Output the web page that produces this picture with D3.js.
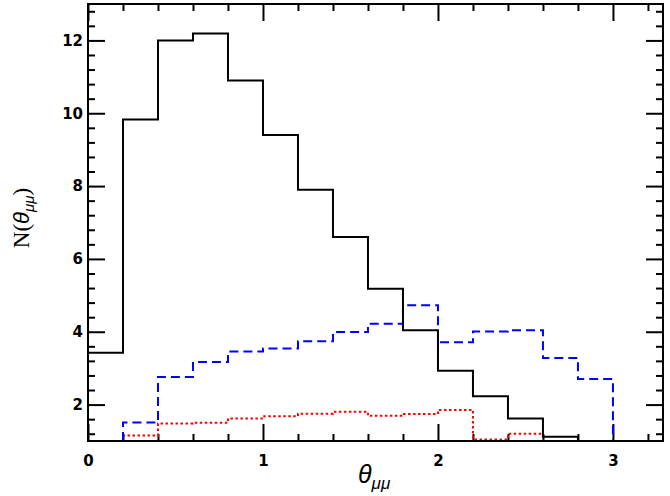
<!DOCTYPE html>
<html><head><meta charset="utf-8">
<script src="https://cdn.jsdelivr.net/npm/d3@7"></script>
<style>body{margin:0;background:#fff}svg{display:block}</style>
</head><body>
<svg id="chart" width="670" height="496"></svg>
<script>
// data
const binWidth = 0.2;
const blackStart = 0.0;
const blackValues = [3.42, 9.83, 12.0, 12.19, 10.9, 9.40, 7.90, 6.6, 5.18, 4.04, 2.93, 2.23, 1.62, 1.12];
const blueStart = 0.2;
const blueValues = [1.51, 2.76, 3.17, 3.46, 3.54, 3.74, 3.99, 4.22, 4.73, 3.71, 4.01, 4.04, 3.28, 2.70];
const redStart = 0.2;
const redValues = [1.15, 1.48, 1.50, 1.62, 1.68, 1.75, 1.80, 1.69, 1.74, 1.85, 1.04, 1.20];
const xMajorTicks = [0, 1, 2, 3];
const yMajorTicks = [2, 4, 6, 8, 10, 12];

const svg = d3.select("#chart");
const L = 88, R = 663, T = 4, B = 441;
const x = d3.scaleLinear().domain([0, 3.286]).range([L, R]);
const y = d3.scaleLinear().domain([1, 13]).range([B, T]);

const xMinor = d3.range(0, 3.29, 0.2).filter(v => Math.abs(v - Math.round(v)) > 1e-6);
const yMinor = d3.range(1.2, 13.0, 0.4).filter(v => Math.abs(v/2 - Math.round(v/2)) > 1e-6);

const tickFont = "bold 15px 'DejaVu Sans', Verdana, sans-serif";
function styleAxis(g){
  g.select(".domain").remove();
  g.selectAll(".tick line").attr("stroke","#000").attr("stroke-width",2);
  g.selectAll("text").style("font", tickFont).attr("fill","#000");
}
// bottom
svg.append("g").attr("transform",`translate(0,${B})`)
  .call(d3.axisBottom(x).tickValues(xMajorTicks).tickSize(-17).tickPadding(14).tickFormat(d3.format("d"))).call(styleAxis);
svg.append("g").attr("transform",`translate(0,${B})`)
  .call(d3.axisBottom(x).tickValues(xMinor).tickSize(-7).tickFormat("")).call(styleAxis);
// top
svg.append("g").attr("transform",`translate(0,${T})`)
  .call(d3.axisTop(x).tickValues(xMajorTicks).tickSize(-17).tickFormat("")).call(styleAxis);
svg.append("g").attr("transform",`translate(0,${T})`)
  .call(d3.axisTop(x).tickValues(xMinor).tickSize(-7).tickFormat("")).call(styleAxis);
// left
svg.append("g").attr("transform",`translate(${L},0)`)
  .call(d3.axisLeft(y).tickValues(yMajorTicks).tickSize(-17).tickPadding(5).tickFormat(d3.format("d"))).call(styleAxis);
svg.append("g").attr("transform",`translate(${L},0)`)
  .call(d3.axisLeft(y).tickValues(yMinor).tickSize(-7).tickFormat("")).call(styleAxis);
// right
svg.append("g").attr("transform",`translate(${R},0)`)
  .call(d3.axisRight(y).tickValues(yMajorTicks).tickSize(-17).tickFormat("")).call(styleAxis);
svg.append("g").attr("transform",`translate(${R},0)`)
  .call(d3.axisRight(y).tickValues(yMinor).tickSize(-7).tickFormat("")).call(styleAxis);

// histogram paths
function stepPoints(start, vals, fromBase, toBase){
  const pts = [];
  if (fromBase) pts.push([start, 1]);
  vals.forEach((v,i)=>{ pts.push([start + i*binWidth, v]); pts.push([start + (i+1)*binWidth, v]); });
  if (toBase) pts.push([start + vals.length*binWidth, 1]);
  return pts;
}
const line = d3.line().x(d=>x(d[0])).y(d=>y(d[1]));
svg.append("path").attr("d", line(stepPoints(redStart, redValues, true, true)))
  .attr("fill","none").attr("stroke","#ff0000").attr("stroke-width",2).attr("stroke-dasharray","2.5,2.5");
svg.append("path").attr("d", line(stepPoints(blueStart, blueValues, true, true)))
  .attr("fill","none").attr("stroke","#0000ff").attr("stroke-width",2).attr("stroke-dasharray","9,5");
svg.append("path").attr("d", line(stepPoints(blackStart, blackValues, false, true)))
  .attr("fill","none").attr("stroke","#000").attr("stroke-width",2);

// frame
svg.append("rect").attr("x",L).attr("y",T).attr("width",R-L).attr("height",B-T)
  .attr("fill","none").attr("stroke","#000").attr("stroke-width",2);

// x title
const xt = svg.append("text").attr("x",358).attr("y",483).attr("fill","#000");
xt.append("tspan").text("θ").style("font","italic 25px 'Liberation Sans', Arial, sans-serif");
xt.append("tspan").text("μμ").attr("dy",6).style("font","italic 17px 'Liberation Sans', Arial, sans-serif");

// y title
const yt = svg.append("text").attr("transform","translate(29,218) rotate(-90)").attr("text-anchor","middle").attr("fill","#000");
yt.append("tspan").text("N(").style("font","23px 'Liberation Serif', 'Times New Roman', serif");
yt.append("tspan").text("θ").style("font","italic 22px 'Liberation Sans', Arial, sans-serif");
yt.append("tspan").text("μμ").attr("dy",5).style("font","italic 15px 'Liberation Sans', Arial, sans-serif");
yt.append("tspan").text(")").attr("dy",-5).style("font","23px 'Liberation Serif', 'Times New Roman', serif");
</script>
</body></html>
